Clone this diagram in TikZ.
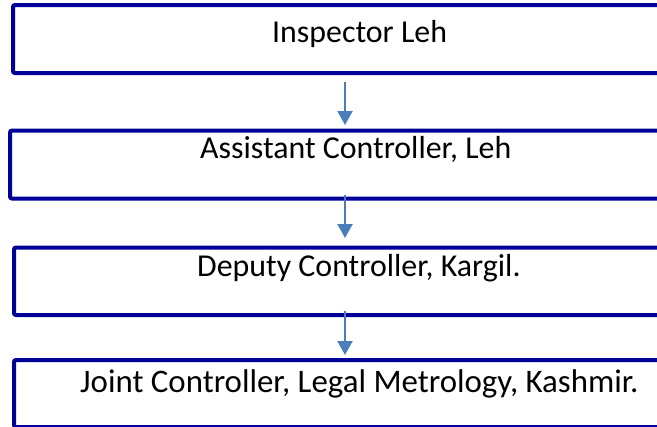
\documentclass[tikz,border=0pt]{standalone}
\usepackage{fontspec}
\setmainfont{Carlito}
\usetikzlibrary{arrows.meta}

\definecolor{postblue}{RGB}{0,0,153}
\definecolor{linkblue}{RGB}{74,126,187}

\tikzset{
  post/.style={draw=postblue, line width=4bp, rounded corners=2bp, inner sep=0pt,
    outer sep=0pt, anchor=north west, minimum width=680bp},
  link/.style={draw=linkblue, line width=2bp, -{Triangle[width=15bp,length=14bp]}},
  caption/.style={anchor=base west, inner sep=0pt, font=\fontsize{32}{36}\selectfont}
}

\begin{document}
\begin{tikzpicture}[x=1bp,y=-1bp]
  \useasboundingbox (0,0) rectangle (657,426);

  % the four posts
  \node[post, minimum height=68bp] (insp) at (13,5) {};
  \node[post, minimum height=68bp] (asst) at (10,130.5) {};
  \node[post, minimum height=67.5bp] (dep) at (14,247.5) {};
  \node[post, minimum height=67bp] (joint) at (14,360) {};

  \node[caption] (tinsp) at (272,42) {Inspector Leh};
  \node[caption] (tasst) at (200,158) {Assistant Controller, Leh};
  \node[caption] (tdep) at (197,276) {Deputy Controller, Kargil.};
  \node[caption, font=\fontsize{33}{36}\selectfont] (tjoint) at (80,392) {Joint Controller, Legal Metrology, Kashmir.};

  % arrows down the chain
  \coordinate (ax) at (345,0);
  \foreach \a/\b/\s/\e in {insp/asst/9/5.5, asst/dep/-3.5/9.5, dep/joint/-4/5}{
    \draw[link, shorten <=\s bp, shorten >=\e bp] (ax |- \a.south) -- (ax |- \b.north);
  }
\end{tikzpicture}
\end{document}
